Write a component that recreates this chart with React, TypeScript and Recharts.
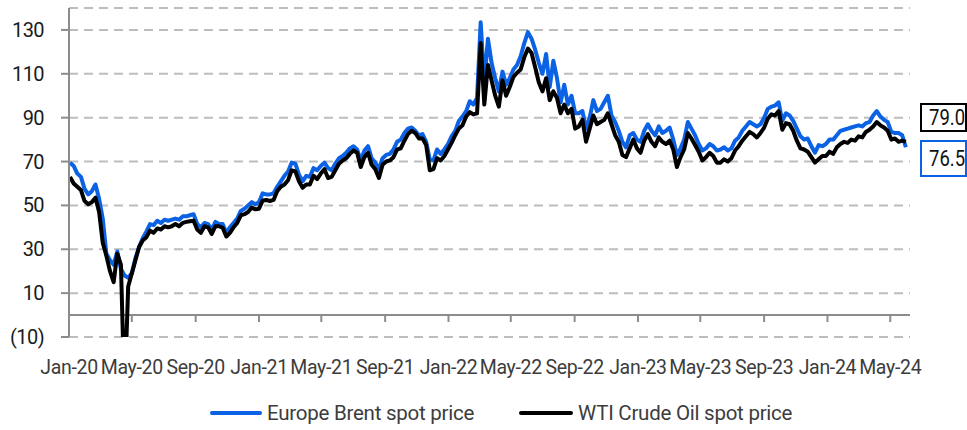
import React from 'react';
import { LineChart, Line, XAxis, YAxis, CartesianGrid, ReferenceLine } from 'recharts';

// weekly spot prices, first week ending 2020-01-03
const firstWeek = '2020-01-03';

const brent = [
  // 2020
  69.5, 68, 64.5, 63, 57.5, 55, 56.5, 59.5, 53, 44,
  28, 25, 23, 29, 21, 18, 17, 19, 26, 31,
  35, 38, 41.5, 41, 43, 42, 43.5, 43, 43.5, 44,
  43.5, 45, 45, 45.5, 46, 41.5, 40, 42, 41.5, 39,
  42.5, 41.5, 41.5, 37.5, 40, 42, 44, 47.5, 48.5, 50,
  51.5, 50.5,
  // 2021
  51.5, 55.5, 55, 55, 55.5, 58.5, 61, 63.5,
  65.5, 69.5, 69, 64, 61, 63.5, 63, 67, 66, 68,
  69.5, 67, 66, 69, 71.5, 72.5, 74, 76, 77, 75.5,
  70.5, 75, 77, 71.5, 69.5, 66.5, 71.5, 73, 73.5, 75.5,
  79, 80, 83, 85, 85.5, 84, 82, 82.5, 79, 71,
  70.5, 75.5, 73.5, 75.5, 78,
  // 2022
  81.5, 84, 88.5, 90.5, 93,
  97.5, 96, 99, 133.5, 106, 126, 115, 108, 102, 111,
  105, 108, 112, 114, 118, 124, 129, 126, 121, 115,
  110, 119, 104, 116, 108, 97, 105, 96, 100, 92,
  92, 93, 85, 90, 98, 93, 94, 97, 100, 91,
  88, 84, 79, 76.5, 82, 83, 80,
  // 2023
  79, 84, 87,
  84, 82, 86, 83, 84, 85.5, 80, 73, 76, 80,
  88, 85, 82, 78, 75, 76, 78, 77, 75, 75.5,
  76.5, 75, 76, 79.5, 81, 84, 86, 88, 87, 86,
  87, 90, 94, 95, 95.5, 97, 88.5, 92, 91, 88.5,
  85, 81.5, 80, 80.5, 77, 74, 77.5, 77, 78,
  // 2024
  80, 80, 82, 84, 84.5, 85, 85.5, 86, 86.5, 86, 87.5,
  88, 91, 93, 90.5, 89, 88, 83.5, 83, 83, 82, 76.5,
];

const wti = [
  // 2020
  63, 60, 58.5, 57, 52, 50.5, 51.5, 53.5, 47, 33,
  27, 20, 15, 28, 23, -37, 13, 19, 25, 31,
  34, 35.5, 38.5, 37.5, 39.5, 39, 40.5, 40, 40.5, 41.5,
  40.5, 42, 42.5, 42.8, 43, 39, 37.5, 40.5, 40, 37,
  40.5, 40.5, 39.8, 35.8, 37.5, 40, 42, 45.5, 46, 47,
  49, 48.2,
  // 2021
  48.5, 52.2, 52.5, 52, 52.5, 56.5, 58.5, 59.5,
  61.5, 66, 65.5, 61, 58, 59.5, 59.5, 63.5, 62, 64.5,
  66.5, 62.5, 63, 66, 69, 70.5, 71.5, 73.5, 75, 74,
  67.5, 72, 74, 68.5, 66.5, 62.5, 68.5, 70, 70.5, 72,
  75.5, 76, 79.5, 82.5, 84, 83, 80.5, 80.5, 77.5, 66,
  66.5, 71.5, 70.5, 72.5, 75.5,
  // 2022
  78.5, 82, 85, 86.5, 90.5,
  92.5, 91.5, 92, 124, 96, 114, 107, 100, 95, 107,
  100, 104, 108.5, 110.5, 112, 117.5, 121.5, 119.5, 113, 106,
  102, 108, 98, 102, 99, 92, 96, 92, 94, 85,
  86, 89, 79, 85, 91, 87, 88, 89, 92, 87,
  82, 79, 73, 72, 76, 80, 76,
  // 2023
  74, 79.5, 82.5,
  79, 77, 81, 79, 78, 79.5, 75.5, 67.5, 72, 75.5,
  83, 80.5, 77.5, 74.5, 70.5, 72, 74, 72.5, 69.5, 69.5,
  71, 70, 71.5, 75, 77, 79.5, 81.5, 83.5, 82.5, 81,
  83, 85.5, 89.5, 91.5, 91, 93, 84.5, 87.5, 87, 84,
  79.5, 76, 75.5, 74.5, 72, 69.5, 71, 72.5, 72.5,
  // 2024
  74.5, 73.5, 76.5, 78, 79, 78.5, 80, 79.5, 81.5, 81, 83.5,
  84.5, 86, 88, 86.5, 85.5, 84, 80, 80.5, 79, 79.5, 79,
];

const tickMonths = [
  '2020-01-01', '2020-05-01', '2020-09-01', '2021-01-01', '2021-05-01', '2021-09-01', '2022-01-01',
  '2022-05-01', '2022-09-01', '2023-01-01', '2023-05-01', '2023-09-01', '2024-01-01', '2024-05-01',
];
const tickLabels = [
  'Jan-20', 'May-20', 'Sep-20', 'Jan-21', 'May-21', 'Sep-21', 'Jan-22',
  'May-22', 'Sep-22', 'Jan-23', 'May-23', 'Sep-23', 'Jan-24', 'May-24',
];
const yTicks = [-10, 10, 30, 50, 70, 90, 110, 130];
const endLabels = ['79.0', '76.5'];
const seriesNames = ['Europe Brent spot price', 'WTI Crude Oil spot price'];

const FONT = 'Roboto, "Noto Sans", sans-serif';
const BLUE = '#0b62e4';
const WEEK = 7 * 86400000;

const ts = (s: string) => new Date(s + 'T00:00:00Z').getTime();
const xTicks = tickMonths.map(ts);
const start = ts(firstWeek);

const data = brent.map((b, i) => ({ t: start + i * WEEK, brent: b, wti: wti[i] }));

const XTick = (props: any) => {
  const { x, y, payload } = props;
  const label = tickLabels[xTicks.indexOf(payload.value)];
  return (
    <g>
      {/* small tick hanging below the zero line */}
      <line x1={x} x2={x} y1={y - 22} y2={y - 15} stroke="#8c8c8c" strokeWidth={2} />
      <text x={x} y={y + 37} textAnchor="middle" fill="#3c3c3c" fontSize={19.5} letterSpacing={-0.3} style={{ fontFamily: FONT }}>
        {label}
      </text>
    </g>
  );
};

const YTick = (props: any) => {
  const { x, y, payload } = props;
  const v = payload.value;
  return (
    <text x={x} y={y} dy="0.35em" textAnchor="end" fill="#1a1a1a" fontSize={20} letterSpacing={-0.6} style={{ fontFamily: FONT }}>
      {v < 0 ? `(${Math.abs(v)})` : v}
    </text>
  );
};

const box: React.CSSProperties = {
  position: 'absolute',
  left: 920,
  width: 47,
  borderRight: 'none',
  boxSizing: 'border-box',
  overflow: 'hidden',
  color: '#111',
};

const boxLabel: React.CSSProperties = {
  display: 'inline-block',
  fontSize: 22,
  marginLeft: 7,
  transform: 'scaleX(0.84)',
  transformOrigin: 'left center',
  whiteSpace: 'nowrap',
};

export default function App() {
  return (
    <div style={{ position: 'absolute', left: 0, top: 0, width: 967, height: 430, overflow: 'hidden', background: '#fff', fontFamily: FONT }}>
      <LineChart width={967} height={430} data={data} margin={{ top: 8, right: 57, bottom: 43, left: 0 }}>
        <CartesianGrid vertical={false} stroke="#bdbdbd" strokeWidth={2} strokeDasharray="9 6" />
        <XAxis
          dataKey="t"
          type="number"
          domain={[ts('2020-01-01'), ts('2024-06-08')]}
          ticks={xTicks}
          interval={0}
          allowDataOverflow
          height={50}
          axisLine={false}
          tickLine={false}
          tickSize={0}
          tickMargin={0}
          tick={(p: any) => <XTick {...p} />}
        />
        <YAxis
          type="number"
          domain={[-10, 140]}
          ticks={yTicks}
          allowDataOverflow
          width={69}
          axisLine={{ stroke: '#8c8c8c', strokeWidth: 2 }}
          tickLine={{ stroke: '#8c8c8c', strokeWidth: 2 }}
          tickSize={8}
          tickMargin={17}
          tick={(p: any) => <YTick {...p} />}
        />
        <ReferenceLine y={0} stroke="#8c8c8c" strokeWidth={2} />
        <Line type="linear" dataKey="brent" stroke={BLUE} strokeWidth={4} strokeLinejoin="round" dot={false} isAnimationActive={false} />
        <Line type="linear" dataKey="wti" stroke="#000" strokeWidth={4} strokeLinejoin="round" dot={false} isAnimationActive={false} />
      </LineChart>

      {/* latest values */}
      <div style={{ ...box, top: 103, height: 29, lineHeight: '25px', border: '2px solid #000', borderRight: 'none' }}>
        <span style={boxLabel}>{endLabels[0]}</span>
      </div>
      <div style={{ ...box, top: 140, height: 37, lineHeight: '33px', border: `2px solid ${BLUE}`, borderRight: 'none' }}>
        <span style={boxLabel}>{endLabels[1]}</span>
      </div>

      {/* legend */}
      <div style={{ position: 'absolute', left: 210, top: 399, height: 28, display: 'flex', alignItems: 'center', fontSize: 20.5, letterSpacing: -0.25, color: '#3c3c3c', whiteSpace: 'nowrap' }}>
        <span style={{ display: 'inline-block', width: 52, height: 4, background: BLUE, borderRadius: 2 }} />
        <span style={{ marginLeft: 5 }}>{seriesNames[0]}</span>
        <span style={{ display: 'inline-block', width: 54, height: 4, background: '#000', borderRadius: 2, marginLeft: 45 }} />
        <span style={{ marginLeft: 5 }}>{seriesNames[1]}</span>
      </div>
    </div>
  );
}
